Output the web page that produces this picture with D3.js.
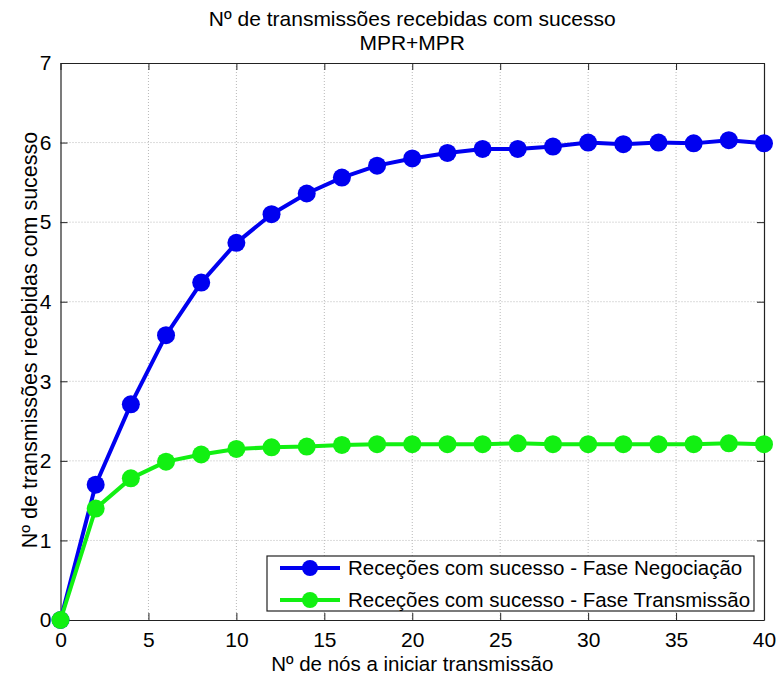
<!DOCTYPE html>
<html>
<head>
<meta charset="utf-8">
<script src="https://cdn.jsdelivr.net/npm/d3@7"></script>
<style>
  body { margin: 0; background: #fff; }
  svg text { font-family: "Liberation Sans", Arial, sans-serif; fill: #000; }
</style>
</head>
<body>
<div id="chart"></div>
<script>
// Data
const nodes = [0, 2, 4, 6, 8, 10, 12, 14, 16, 18, 20, 22, 24, 26, 28, 30, 32, 34, 36, 38, 40]
const negociacao = [0, 1.70, 2.71, 3.58, 4.24, 4.74, 5.10, 5.36, 5.56, 5.71, 5.80, 5.87, 5.92, 5.92, 5.95, 6.00, 5.98, 6.00, 5.99, 6.03, 5.99]
const transmissao = [0, 1.40, 1.78, 1.99, 2.08, 2.15, 2.17, 2.18, 2.20, 2.21, 2.21, 2.21, 2.21, 2.22, 2.21, 2.21, 2.21, 2.21, 2.21, 2.22, 2.21]
const seriesNames = ["Receções com sucesso - Fase Negociação", "Receções com sucesso - Fase Transmissão"]
const seriesColors = ["#0000f0", "#12f012"]
const xTicks = [0, 5, 10, 15, 20, 25, 30, 35, 40]
const yTicks = [0, 1, 2, 3, 4, 5, 6, 7]
const titleLines = ["Nº de transmissões recebidas com sucesso", "MPR+MPR"]
const xLabel = "Nº de nós a iniciar transmissão"
const yLabel = "Nº de transmissões recebidas com sucesso"

const width = 779
const height = 680
const margin = {top: 63, right: 15, bottom: 60, left: 60.5}

const svg = d3.select("#chart").append("svg")
  .attr("width", width)
  .attr("height", height)

const xScale = d3.scaleLinear().domain([0, 40]).range([margin.left, width - margin.right])
const yScale = d3.scaleLinear().domain([0, 7]).range([height - margin.bottom, margin.top])

const plotLeft = xScale(0), plotRight = xScale(40), plotTop = yScale(7), plotBottom = yScale(0)

// Grid lines (dotted)
const grid = svg.append("g").attr("stroke", "#b8b8b8").attr("stroke-width", 1).attr("stroke-dasharray", "1,2")
grid.selectAll(".gx").data(xTicks.slice(1, -1)).enter().append("line")
  .attr("x1", d => xScale(d)).attr("x2", d => xScale(d))
  .attr("y1", plotTop).attr("y2", plotBottom)
grid.selectAll(".gy").data(yTicks.slice(1, -1)).enter().append("line")
  .attr("x1", plotLeft).attr("x2", plotRight)
  .attr("y1", d => yScale(d)).attr("y2", d => yScale(d))

// Axes (ticks pointing inward like MATLAB)
const fmt = d3.format("d")
const xAxis = d3.axisBottom(xScale).tickValues(xTicks).tickFormat(fmt).tickSizeInner(-7).tickSizeOuter(0).tickPadding(12)
const yAxis = d3.axisLeft(yScale).tickValues(yTicks).tickFormat(fmt).tickSizeInner(-7).tickSizeOuter(0).tickPadding(9)

const gx = svg.append("g").attr("transform", `translate(0,${plotBottom})`).call(xAxis)
const gy = svg.append("g").attr("transform", `translate(${plotLeft},0)`).call(yAxis)
const gxTop = svg.append("g").attr("transform", `translate(0,${plotTop})`)
  .call(d3.axisTop(xScale).tickValues(xTicks).tickSizeInner(-7).tickSizeOuter(0).tickFormat(""))
const gyRight = svg.append("g").attr("transform", `translate(${plotRight},0)`)
  .call(d3.axisRight(yScale).tickValues(yTicks).tickSizeInner(-7).tickSizeOuter(0).tickFormat(""))

;[gx, gy, gxTop, gyRight].forEach(g => {
  g.select(".domain").attr("stroke", "#222").attr("stroke-width", 1.2)
  g.selectAll(".tick line").attr("stroke", "#222")
  g.selectAll(".tick text").attr("font-size", 21).attr("font-family", "Liberation Sans, Arial, sans-serif")
})

// Lines and markers
const allSeries = [negociacao, transmissao]
const line = d3.line().x((d, i) => xScale(nodes[i])).y(d => yScale(d))

allSeries.forEach((values, s) => {
  const g = svg.append("g")
  g.append("path")
    .datum(values)
    .attr("fill", "none")
    .attr("stroke", seriesColors[s])
    .attr("stroke-width", 4)
    .attr("stroke-linejoin", "round")
    .attr("d", line)
  g.selectAll("circle").data(values).enter().append("circle")
    .attr("cx", (d, i) => xScale(nodes[i]))
    .attr("cy", d => yScale(d))
    .attr("r", 9)
    .attr("fill", seriesColors[s])
})

// Legend
const legend = svg.append("g").attr("transform", "translate(267,556)")
legend.append("rect")
  .attr("width", 487).attr("height", 55)
  .attr("fill", "#fff").attr("stroke", "#222").attr("stroke-width", 1.2)
seriesNames.forEach((name, i) => {
  const y = 12 + i * 32
  legend.append("line").attr("x1", 13).attr("x2", 73).attr("y1", y).attr("y2", y)
    .attr("stroke", seriesColors[i]).attr("stroke-width", 4)
  legend.append("circle").attr("cx", 43).attr("cy", y).attr("r", 8).attr("fill", seriesColors[i])
  legend.append("text").attr("x", 81).attr("y", y + 7).attr("font-size", 20.5).text(name)
})

// Title
svg.append("text").attr("x", (plotLeft + plotRight) / 2).attr("y", 26)
  .attr("text-anchor", "middle").attr("font-size", 21).text(titleLines[0])
svg.append("text").attr("x", (plotLeft + plotRight) / 2).attr("y", 50)
  .attr("text-anchor", "middle").attr("font-size", 21).text(titleLines[1])

// Axis labels
svg.append("text").attr("x", (plotLeft + plotRight) / 2).attr("y", 671)
  .attr("text-anchor", "middle").attr("font-size", 20.5).text(xLabel)
svg.append("text")
  .attr("transform", `translate(37,340) rotate(-90)`)
  .attr("text-anchor", "middle").attr("font-size", 21.5).text(yLabel)
</script>
</body>
</html>
